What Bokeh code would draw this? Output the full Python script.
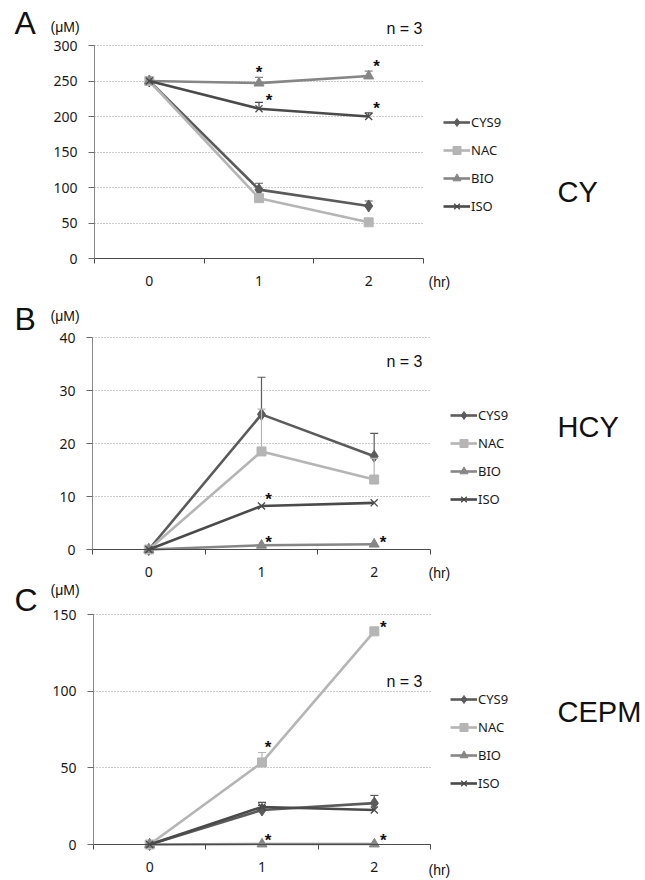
from bokeh.plotting import figure
from bokeh.layouts import column
from bokeh.models import Range1d, FixedTicker, Label, Legend, LegendItem
from bokeh.core.properties import value
from bokeh.embed import file_html
from bokeh.resources import INLINE

hours = [0, 1, 2]
hour_labels = ["0", "1", "2"]
series = ["CYS9", "NAC", "BIO", "ISO"]

# Panel A: CY (uM)
cy_cys9 = [250, 97, 74]
cy_nac = [250, 85, 51]
cy_bio = [250, 247, 257]
cy_iso = [250, 211, 200]
cy_err_cys9 = [0, 9, 7]
cy_err_nac = [0, 0, 0]
cy_err_bio = [0, 8, 7]
cy_err_iso = [0, 9, 5]

# Panel B: HCY (uM)
hcy_cys9 = [0, 25.5, 17.6]
hcy_nac = [0, 18.5, 13.2]
hcy_bio = [0, 0.8, 1.0]
hcy_iso = [0, 8.2, 8.8]
hcy_err_cys9 = [0, 7.0, 4.3]
hcy_err_nac = [0, 8.0, 4.0]
hcy_err_bio = [0, 0, 0]
hcy_err_iso = [0, 0, 0]

# Panel C: CEPM (uM)
cepm_cys9 = [0, 22.5, 27]
cepm_nac = [0, 53.5, 139]
cepm_bio = [0, 0.3, 0.3]
cepm_iso = [0, 24.5, 22.5]
cepm_err_cys9 = [0, 3, 5]
cepm_err_nac = [0, 6.5, 0]
cepm_err_bio = [0, 0, 0]
cepm_err_iso = [0, 3, 0]

# significance marks: (series, hour index)
cy_stars = [("BIO", 1), ("BIO", 2), ("ISO", 1), ("ISO", 2)]
hcy_stars = [("ISO", 1), ("BIO", 1), ("BIO", 2)]
cepm_stars = [("NAC", 1), ("NAC", 2), ("BIO", 1), ("BIO", 2)]

STY = {
    "CYS9": dict(color="#5b5b5b", marker="diamond", size=12),
    "NAC": dict(color="#b5b5b5", marker="square", size=9),
    "BIO": dict(color="#868686", marker="triangle", size=10),
    "ISO": dict(color="#4a4a4a", marker="x", size=10),
}

# star pixel offsets (dx, dy) relative to point
STAR_OFF = {
    "A": [(0, -15), (8, -14), (10, -12), (8, -12)],
    "B": [(7, -11), (7, -7), (9, -6)],
    "C": [(6, -19), (9, -8), (6, -8), (9, -8)],
}

SANS = "Liberation Sans"
JFONT = "Noto Sans"
W = 645


def make_panel(key, vals, errs, stars, ymax, ystep, g, letter, name):
    L, R, T, B, h = g["L"], g["R"], g["T"], g["B"], g["h"]
    xpx = (R - L) / 3.0
    ypx = (B - T) / float(ymax)
    xr = Range1d(-0.5 - L / xpx, -0.5 + (W - L) / xpx)
    yr = Range1d(-(h - B) / ypx, ymax + T / ypx)
    p = figure(width=W, height=h, x_range=xr, y_range=yr,
               output_backend="svg", toolbar_location=None,
               min_border_left=0, min_border_right=0, min_border_top=0, min_border_bottom=0)
    p.outline_line_color = None
    p.background_fill_color = "white"
    p.border_fill_color = "white"
    p.xgrid.visible = False

    xa = p.xaxis[0]
    xa.fixed_location = 0
    xa.bounds = (-0.5, 2.5)
    xa.ticker = FixedTicker(ticks=hours, minor_ticks=[-0.5, 0.5, 1.5, 2.5])
    xa.major_label_overrides = {h_: l for h_, l in zip(hours, hour_labels)}
    xa.major_tick_out = 0
    xa.major_tick_in = 0
    xa.minor_tick_out = 5
    xa.minor_tick_in = 0
    xa.axis_line_color = "#4a4a4a"
    xa.minor_tick_line_color = "#4a4a4a"
    xa.major_label_text_font = JFONT
    xa.major_label_text_font_size = "14px"
    xa.major_label_text_color = "#1a1a1a"
    xa.major_label_standoff = 12

    ya = p.yaxis[0]
    ya.fixed_location = -0.5
    ya.bounds = (0, ymax)
    ya.ticker = FixedTicker(ticks=list(range(0, ymax + 1, ystep)), minor_ticks=[])
    ya.major_tick_out = 6
    ya.major_tick_in = 0
    ya.minor_tick_out = 0
    ya.minor_tick_in = 0
    ya.axis_line_color = "#8a8a8a"
    ya.major_tick_line_color = "#6a6a6a"
    ya.major_label_text_font = JFONT
    ya.major_label_text_font_size = "14px"
    ya.major_label_text_color = "#1a1a1a"
    ya.major_label_standoff = 11

    grid_ticks = list(range(ystep, ymax + 1, ystep))
    try:
        p.ygrid[0].cross_bounds = (-0.5, 2.5)
        p.ygrid.grid_line_color = "#9a9a9a"
        p.ygrid.grid_line_dash = "1 2"
        p.ygrid.grid_line_width = 1
    except Exception:
        p.ygrid.visible = False
        p.segment([-0.5] * len(grid_ticks), grid_ticks, [2.5] * len(grid_ticks), grid_ticks,
                  line_color="#9a9a9a", line_dash="1 2", line_width=1)

    items = []
    for s in series:
        st = STY[s]
        r1 = p.line(hours, vals[s], line_color=st["color"], line_width=2.6)
        xs = [hh for hh, e in zip(hours, errs[s]) if e > 0]
        y0 = [v for v, e in zip(vals[s], errs[s]) if e > 0]
        y1 = [v + e for v, e in zip(vals[s], errs[s]) if e > 0]
        if xs:
            p.segment(xs, y0, xs, y1, line_color=st["color"], line_width=1.2)
            p.scatter(xs, y1, marker="dash", size=8, line_color=st["color"], line_width=1.2)
        if st["marker"] == "x":
            r2 = p.scatter(hours, vals[s], marker="x", size=st["size"], line_color=st["color"], line_width=1.3)
        else:
            r2 = p.scatter(hours, vals[s], marker=st["marker"], size=st["size"],
                           fill_color=st["color"], line_color=st["color"])
        items.append(LegendItem(label=s, renderers=[r1, r2]))

    sx = [hours[i] for s, i in stars]
    sy = [vals[s][i] for s, i in stars]
    offs = STAR_OFF[key]
    p.text(sx, sy, text=["*"] * len(sx), x_offset=[o[0] for o in offs], y_offset=[o[1] + 4 for o in offs],
           text_font=value(SANS), text_font_size="17px", text_font_style="bold",
           text_align="center", text_baseline="middle", text_color="#111111")

    leg = Legend(items=items, location=(g["lx"], g["ly"]), orientation="vertical",
                 glyph_width=27, glyph_height=20, label_standoff=1, spacing=8, padding=10, margin=0,
                 background_fill_alpha=0, border_line_color=None,
                 label_text_font=JFONT, label_text_font_size="13px", label_text_color="#1a1a1a")
    p.add_layout(leg)

    def px2data(px, py):
        return -0.5 + (px - L) / xpx, (B - py) / ypx

    def lab(text, px, py, size, font=SANS, align="left"):
        x, y = px2data(px, py)
        p.add_layout(Label(x=x, y=y, text=text, text_font=font, text_font_size=size,
                           text_align=align, text_baseline="middle", text_color="#111111"))

    lab(letter, 14, g["let_y"], "32px")
    lab("(μM)", 50, g["um_y"], "14px")
    lab("n = 3", 422, g["n_y"], "16px", align="right")
    lab(name, 557, g["name_y"], "29px")
    lab("(hr)", 428, g["hr_y"], "14px")
    return p


gA = dict(h=295, L=94, R=423, T=45, B=258, lx=443, ly=79, let_y=22, um_y=26, n_y=28, name_y=191, hr_y=281)
gB = dict(h=286, L=92, R=430, T=42, B=254, lx=450, ly=72, let_y=23, um_y=20, n_y=66, name_y=131, hr_y=277)
gC = dict(h=299, L=93, R=430, T=33, B=263, lx=450, ly=87, let_y=18, um_y=8, n_y=100, name_y=130, hr_y=288)

pA = make_panel("A", {"CYS9": cy_cys9, "NAC": cy_nac, "BIO": cy_bio, "ISO": cy_iso},
                {"CYS9": cy_err_cys9, "NAC": cy_err_nac, "BIO": cy_err_bio, "ISO": cy_err_iso},
                cy_stars, 300, 50, gA, "A", "CY")
pB = make_panel("B", {"CYS9": hcy_cys9, "NAC": hcy_nac, "BIO": hcy_bio, "ISO": hcy_iso},
                {"CYS9": hcy_err_cys9, "NAC": hcy_err_nac, "BIO": hcy_err_bio, "ISO": hcy_err_iso},
                hcy_stars, 40, 10, gB, "B", "HCY")
pC = make_panel("C", {"CYS9": cepm_cys9, "NAC": cepm_nac, "BIO": cepm_bio, "ISO": cepm_iso},
                {"CYS9": cepm_err_cys9, "NAC": cepm_err_nac, "BIO": cepm_err_bio, "ISO": cepm_err_iso},
                cepm_stars, 150, 50, gC, "C", "CEPM")

layout = column(pA, pB, pC, spacing=0)
open("out.html", "w").write(file_html(layout, INLINE))
